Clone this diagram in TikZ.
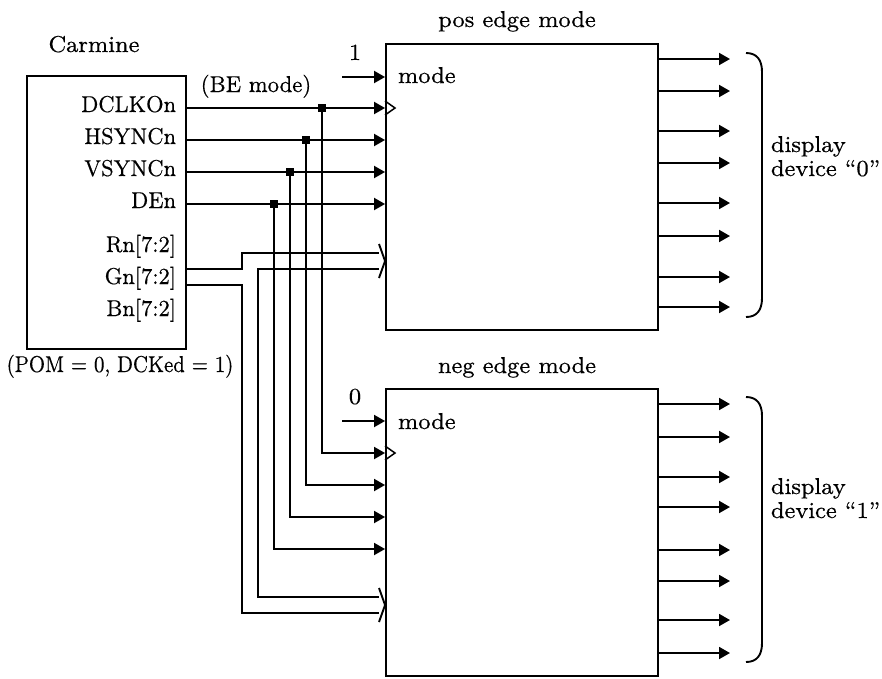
\documentclass[tikz,border=0pt]{standalone}
\usepackage{fontspec}
\setmainfont{lmroman8-regular.otf}[FakeBold=0.4]
\usetikzlibrary{arrows.meta}
\begin{document}
\begin{tikzpicture}[x=1pt,y=-1pt,line width=1.9pt,
  font=\fontsize{23}{27}\selectfont,
  sig/.style={-{Triangle[length=11pt,width=12pt]}},
  blk/.style={draw,inner sep=0pt,line width=1.9pt},
  junc/.style={fill=black,inner sep=0pt,minimum size=8pt,draw=none},
  lbl/.style={inner sep=0pt,anchor=base east},
  txt/.style={inner sep=0pt,anchor=base}]
\useasboundingbox (0,0) rectangle (882,678);

% blocks
\node[blk,minimum width=159pt,minimum height=273pt] (carm) at (106.5,212.5) {};
\node[blk,minimum width=272pt,minimum height=286pt] (up) at (522,187) {};
\node[blk,minimum width=272pt,minimum height=287pt] (lo) at (522,532.5) {};

% titles
\node[txt] (tcarm) at (94,52) {Carmine};
\node[txt] (tbe) at (256,92) {\scalebox{0.93}[1]{(BE mode)}};
\node[txt] (tpom) at (120,372) {\scalebox{0.85}[1]{(POM = 0, DCKed = 1)}};
\node[txt] (tpos) at (517,27) {pos edge mode};
\node[txt] (tneg) at (517,373) {neg edge mode};

% pin labels
\node[lbl] (l1) at (177,112) {\scalebox{0.92}[1]{DCLKOn}};
\node[lbl] (l2) at (177,144) {\scalebox{0.92}[1]{HSYNCn}};
\node[lbl] (l3) at (177,176) {\scalebox{0.92}[1]{VSYNCn}};
\node[lbl] (l4) at (177,208) {\scalebox{0.92}[1]{DEn}};
\node[lbl] (l5) at (177,252) {\scalebox{0.92}[1]{Rn[7:2]}};
\node[lbl] (l6) at (177,284) {\scalebox{0.92}[1]{Gn[7:2]}};
\node[lbl] (l7) at (177,316) {\scalebox{0.92}[1]{Bn[7:2]}};

% mode inputs
\node[txt] (one) at (355,60) {1};
\node[txt] (zero) at (355,404) {0};
\node[inner sep=0pt,anchor=base west] (m1) at (397,83) {mode};
\node[inner sep=0pt,anchor=base west] (m2) at (397,429) {mode};
\coordinate (c1) at (342,77);
\coordinate (c0) at (342,421);
\draw[sig] (c1) -- (up.west |- c1);
\draw[sig] (c0) -- (lo.west |- c0);

% control signals to upper block
\draw[sig] (carm.east |- 0,108) -- (up.west |- 0,108);
\draw[sig] (carm.east |- 0,140) -- (up.west |- 0,140);
\draw[sig] (carm.east |- 0,172) -- (up.west |- 0,172);
\draw[sig] (carm.east |- 0,204) -- (up.west |- 0,204);

% junctions and branches to lower block
\node[junc] (j1) at (322,108) {};
\node[junc] (j2) at (306,140) {};
\node[junc] (j3) at (290,172) {};
\node[junc] (j4) at (274,204) {};
\draw[sig] (j1.center) -- (322,453) -- (lo.west |- 0,453);
\draw[sig] (j2.center) -- (306,485) -- (lo.west |- 0,485);
\draw[sig] (j3.center) -- (290,517) -- (lo.west |- 0,517);
\draw[sig] (j4.center) -- (274,549) -- (lo.west |- 0,549);

% clock triangles
\draw[line width=1.5pt,line join=miter] (up.west |- 0,101) -- (395,108) -- (up.west |- 0,115);
\draw[line width=1.5pt,line join=miter] (lo.west |- 0,446) -- (395,453) -- (lo.west |- 0,460);

% data bus
\draw (carm.east |- 0,269) -- (242,269) -- (242,253) -- (379,253);
\draw (carm.east |- 0,285) -- (242,285) -- (242,613) -- (379,613);
\draw (379,269) -- (258,269) -- (258,597) -- (379,597);
\draw[line join=miter] (379,244) -- (up.west |- 0,261) -- (379,278);
\draw[line join=miter] (379,588) -- (lo.west |- 0,605) -- (379,622);

% outputs
\foreach \y in {59,91,131,163,203,236,277,307}
  \draw[sig] (up.east |- 0,\y) -- (730,\y);
\foreach \y in {404,437,477,507,550,581,620,653}
  \draw[sig] (lo.east |- 0,\y) -- (730,\y);

% brackets
\draw (746,53) .. controls (757,53) and (762,60) .. (762,72) -- (762,298)
  .. controls (762,310) and (757,317) .. (746,317);
\draw (746,397) .. controls (757,397) and (762,404) .. (762,416) -- (762,643)
  .. controls (762,655) and (757,662) .. (746,662);

\node[inner sep=0pt,anchor=base west] (d0a) at (770,152) {display};
\node[inner sep=0pt,anchor=base west] (d0b) at (770,176) {device ``0''};
\node[inner sep=0pt,anchor=base west] (d1a) at (770,494) {display};
\node[inner sep=0pt,anchor=base west] (d1b) at (770,518) {device ``1''};
\end{tikzpicture}
\end{document}
